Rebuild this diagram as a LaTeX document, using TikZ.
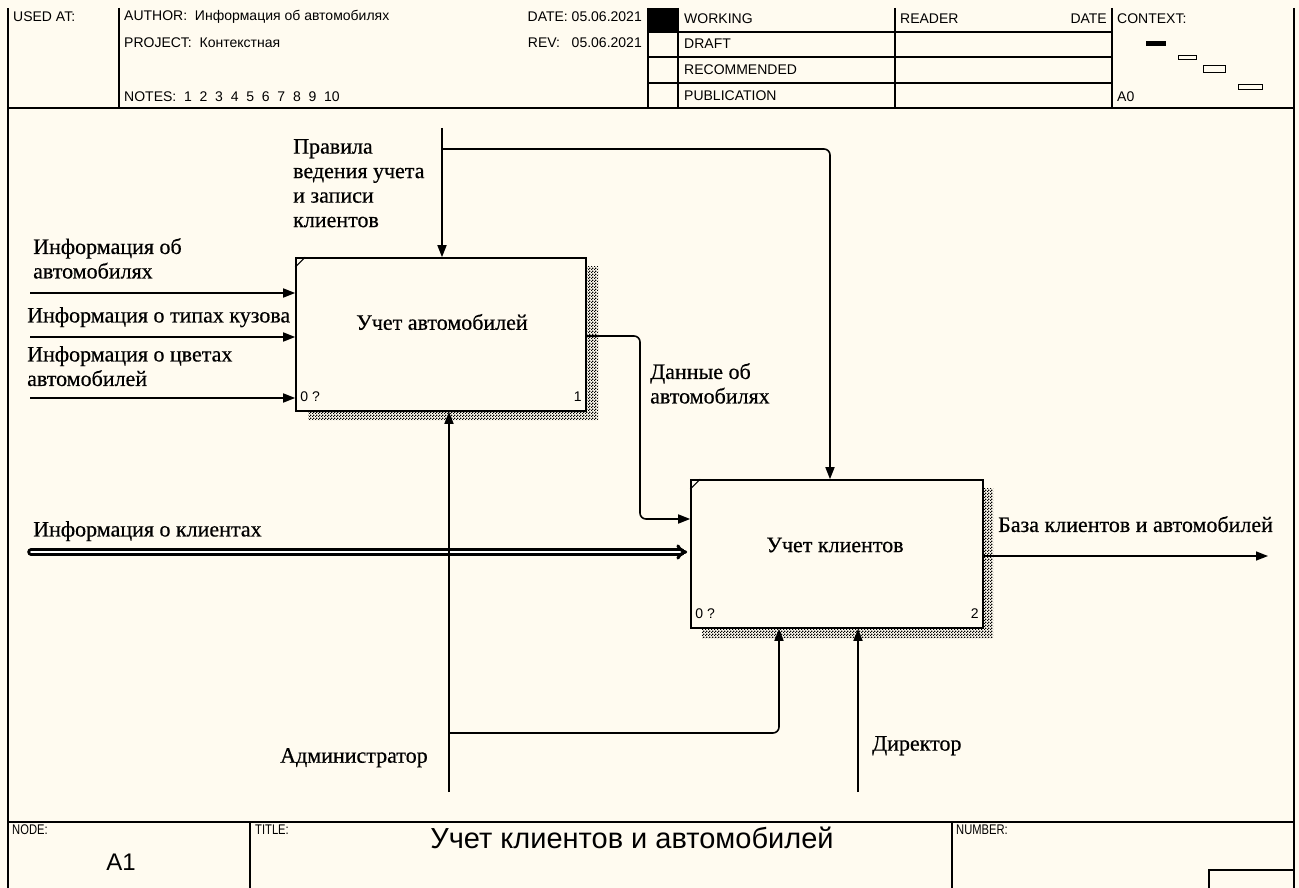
\documentclass[tikz,border=0pt]{standalone}
\usepackage{fontspec}
\setmainfont{Liberation Serif}
\newfontfamily\lblfont[FakeBold=0.5]{Liberation Serif}
\newfontfamily\hsans{Liberation Sans}
\newfontfamily\nsans[FakeStretch=0.8]{Liberation Sans}
\usetikzlibrary{arrows.meta,patterns,calc}
\definecolor{paper}{RGB}{255,251,240}
\pgfdeclarepatternformonly{idefdots}{\pgfpointorigin}{\pgfqpoint{3pt}{3pt}}{\pgfqpoint{3pt}{3pt}}{%
  \pgfpathrectangle{\pgfpointorigin}{\pgfqpoint{1.5pt}{1.5pt}}%
  \pgfpathrectangle{\pgfqpoint{1.5pt}{1.5pt}}{\pgfqpoint{1.5pt}{1.5pt}}%
  \pgfusepath{fill}}
\tikzset{
  frameline/.style={line width=1.6pt,draw=black},
  htext/.style={font=\hsans\fontsize{14}{16}\selectfont,inner sep=0pt,anchor=west},
  ftext/.style={font=\nsans\fontsize{14}{16}\selectfont,inner sep=0pt,anchor=west},
  lbl/.style={font=\lblfont\fontsize{22}{24.5}\selectfont,inner sep=0pt,anchor=north west,align=left},
  actbox/.style={draw=black,line width=1.6pt,fill=paper,inner sep=0pt},
  acttext/.style={font=\lblfont\fontsize{22}{24}\selectfont,inner sep=0pt},
  cornertext/.style={font=\hsans\fontsize{14}{16}\selectfont,inner sep=0pt},
  shadow/.style={pattern=idefdots,pattern color=black},
  conn/.style={line width=1.6pt,draw=black,rounded corners=6pt},
  arr/.style={conn,-{Triangle[length=12pt,width=9pt]}},
}
\begin{document}
\begin{tikzpicture}[x=1pt,y=-1pt]
\useasboundingbox (0,0) rectangle (1299,888);
\fill[paper] (0,0) rectangle (1299,888);

% ---------- frame ----------
\draw[frameline] (8,888) -- (8,8);
\draw[frameline] (1294,8) -- (1294,888);
\draw[frameline] (8,108) -- (1294,108);
\draw[frameline] (8,822) -- (1294,822);
% header columns
\draw[frameline] (119,8) -- (119,108);
\draw[frameline] (648,8) -- (648,108);
\draw[frameline] (678,8) -- (678,108);
\draw[frameline] (895,8) -- (895,108);
\draw[frameline] (1112,8) -- (1112,108);
\foreach \yy in {32,57,83} \draw[frameline] (648,\yy) -- (1112,\yy);
\fill[black] (648,8) rectangle (678,32);
% footer columns
\draw[frameline] (250,822) -- (250,888);
\draw[frameline] (952,822) -- (952,888);
\draw[frameline] (1209,888) -- (1209,870) -- (1294,870);

% ---------- header text ----------
\node[htext] (usedat) at (13,17) {USED AT:};
\node[htext] (author) at (124,17) {AUTHOR:\ \ Информация об автомобилях};
\node[htext] (project) at (124,43) {PROJECT:\ \ Контекстная};
\node[htext] (notes) at (124,97) {NOTES:\ \ 1\ \ 2\ \ 3\ \ 4\ \ 5\ \ 6\ \ 7\ \ 8\ \ 9\ \ 10};
\node[htext,anchor=east] (date) at (642,17) {DATE: 05.06.2021};
\node[htext,anchor=east] (rev) at (642,43) {REV:\ \ \ 05.06.2021};
\node[htext] (working) at (684,19) {WORKING};
\node[htext] (draft) at (684,44) {DRAFT};
\node[htext] (recommended) at (684,70) {RECOMMENDED};
\node[htext] (publication) at (684,96) {PUBLICATION};
\node[htext] (reader) at (900,19) {READER};
\node[htext,anchor=east] (rdate) at (1107,19) {DATE};
\node[htext] (context) at (1117,19) {CONTEXT:};
\node[htext] (azero) at (1117,97) {A0};
% context thumbnails
\fill[black] (1146,41) rectangle (1166,46);
\draw[line width=1pt] (1178,56) rectangle (1196,60);
\draw[line width=1pt] (1203,66) rectangle (1225,73);
\draw[line width=1pt] (1238,85) rectangle (1262,90);

% ---------- footer text ----------
\node[ftext] (nodelbl) at (12,830) {NODE:};
\node[font=\hsans\fontsize{24}{26}\selectfont,inner sep=0pt] (nodenum) at (121,862) {A1};
\node[ftext] (titlelbl) at (255,830) {TITLE:};
\node[font=\hsans\fontsize{29}{32}\selectfont,inner sep=0pt] (title) at (632,838) {Учет клиентов и автомобилей};
\node[ftext] (numberlbl) at (956,830) {NUMBER:};

% ---------- activity boxes ----------
\fill[shadow] (586,266) -- (598,266) -- (598,420) -- (308,420) -- (308,411) -- (586,411) -- cycle;
\node[actbox,minimum width=290pt,minimum height=153pt] (box1) at (441,334.5) {};
\fill[shadow] (983,488) -- (993,488) -- (993,638) -- (702,638) -- (702,628) -- (983,628) -- cycle;
\node[actbox,minimum width=292pt,minimum height=148pt] (box2) at (837,554) {};

\draw[line width=1pt] ($(box1.north west)+(0,10)$) -- ($(box1.north west)+(10,0)$);
\draw[line width=1pt] ($(box2.north west)+(0,10)$) -- ($(box2.north west)+(10,0)$);

\node[acttext] (t1) at (442,322) {Учет автомобилей};
\node[acttext] (t2) at (835,545) {Учет клиентов};
\node[cornertext,anchor=west] (b1a) at ($(box1.south west)+(5,-15)$) {0 ?};
\node[cornertext,anchor=east] (b1b) at ($(box1.south east)+(-5,-15)$) {1};
\node[cornertext,anchor=west] (b2a) at ($(box2.south west)+(5,-15)$) {0 ?};
\node[cornertext,anchor=east] (b2b) at ($(box2.south east)+(-5,-15)$) {2};

% ---------- inputs to box1 ----------
\coordinate (in1) at (30,293);
\coordinate (in2) at (30,337);
\coordinate (in3) at (30,398);
\draw[arr] (in1) -- (in1 -| box1.west);
\draw[arr] (in2) -- (in2 -| box1.west);
\draw[arr] (in3) -- (in3 -| box1.west);
\node[lbl] (l1) at (33,238) {Информация об\\автомобилях};
\node[lbl] (l2) at (27,307) {Информация о типах кузова};
\node[lbl] (l3) at (27,346) {Информация о цветах\\автомобилей};

% ---------- control ----------
\coordinate (ctl) at (442,128);
\coordinate (ctlj) at (442,149);
\coordinate (c2) at (830,149);
\draw[arr] (ctl) -- (ctl |- box1.north);
\draw[arr] (ctlj) -- (c2) -- (c2 |- box2.north);
\node[lbl] (l4) at (293,139) {Правила\\ведения учета\\и записи\\клиентов};

% ---------- box1 -> box2 ----------
\coordinate (o1) at (640,336);
\coordinate (o2) at (640,519);
\draw[arr] (box1.east |- o1) -- (o1) -- (o2) -- (o2 -| box2.west);
\node[lbl] (l5) at (650,363) {Данные об\\автомобилях};

% ---------- clients info (double line) ----------
\coordinate (cl) at (31,552);
\draw[line width=3pt,double=white,double distance=1.6pt,line cap=round,-{Implies}] (cl) -- ($(cl -| box2.west)+(-3,0)$);
\node[lbl] (l6) at (33,521) {Информация о клиентах};

% ---------- output ----------
\coordinate (out) at (1268,556);
\draw[arr] (out -| box2.east) -- (out);
\node[lbl] (l7) at (998,516) {База клиентов и автомобилей};

% ---------- mechanisms ----------
\coordinate (adm) at (449,792);
\coordinate (admj) at (449,733);
\coordinate (m2) at (779,733);
\draw[arr] (adm) -- (adm |- box1.south);
\draw[arr] (admj) -- (m2) -- (m2 |- box2.south);
\node[lbl] (l8) at (280,748) {Администратор};
\coordinate (dir) at (858,792);
\draw[arr] (dir) -- (dir |- box2.south);
\node[lbl] (l9) at (872,736) {Директор};
\end{tikzpicture}
\end{document}
